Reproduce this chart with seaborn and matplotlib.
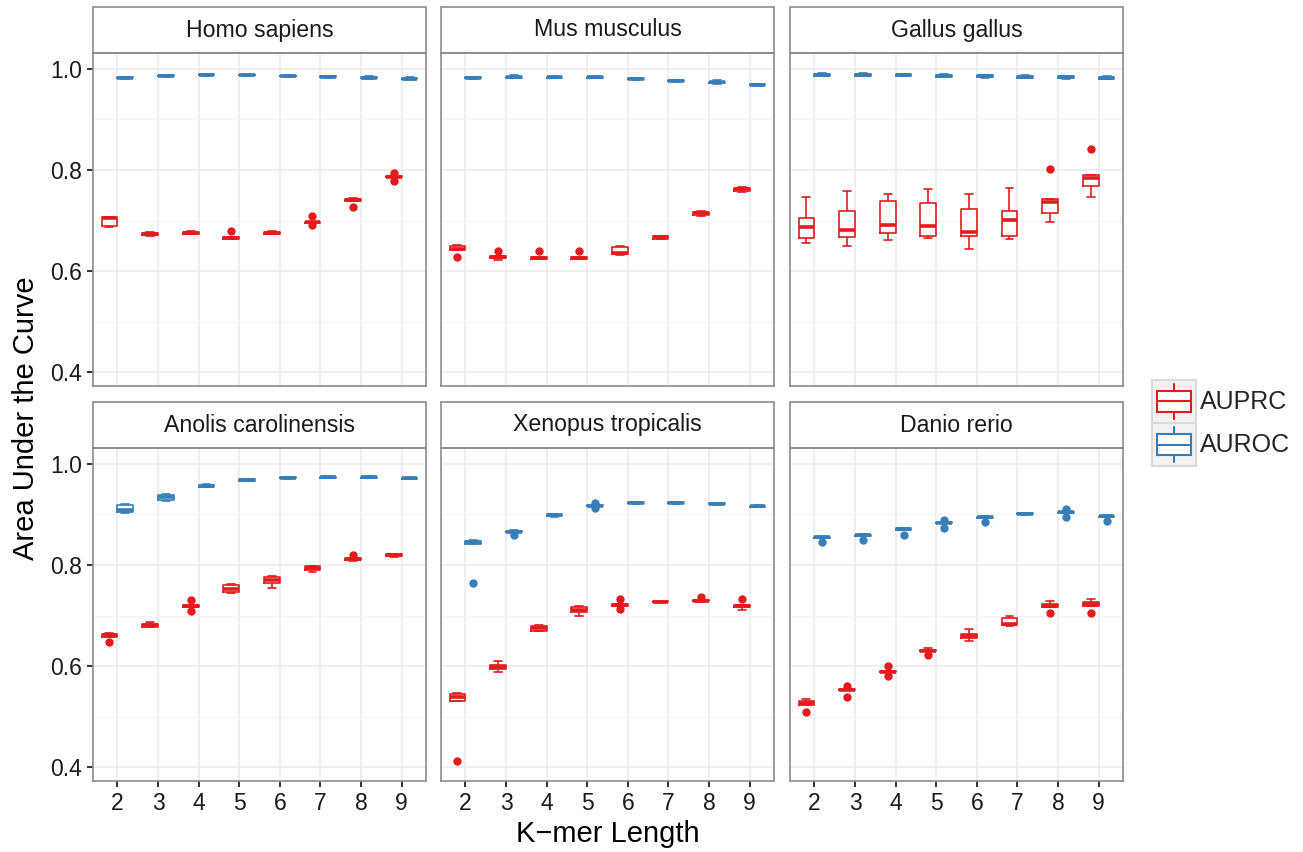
import numpy as np
import pandas as pd
import matplotlib
matplotlib.use("Agg")
import matplotlib.pyplot as plt
import seaborn as sns
from matplotlib.patches import Rectangle
from matplotlib.lines import Line2D
from matplotlib.legend_handler import HandlerBase

# values (5 folds per k-mer length)
kmers = [2, 3, 4, 5, 6, 7, 8, 9]
species = ["Homo sapiens", "Mus musculus", "Gallus gallus",
           "Anolis carolinensis", "Xenopus tropicalis", "Danio rerio"]
metrics = ["AUPRC", "AUROC"]
colors = ["#E41A1C", "#377EB8"]

homo_auprc = [[0.688, 0.689, 0.704, 0.706, 0.707], [0.669, 0.671, 0.674, 0.676, 0.678],
              [0.673, 0.674, 0.676, 0.678, 0.679], [0.663, 0.664, 0.665, 0.667, 0.679],
              [0.673, 0.674, 0.676, 0.678, 0.679], [0.691, 0.696, 0.697, 0.698, 0.709],
              [0.727, 0.739, 0.741, 0.743, 0.744], [0.779, 0.785, 0.786, 0.788, 0.793]]
homo_auroc = [[0.980, 0.981, 0.982, 0.983, 0.984], [0.984, 0.985, 0.986, 0.987, 0.988],
              [0.986, 0.987, 0.988, 0.989, 0.990], [0.986, 0.987, 0.988, 0.988, 0.989],
              [0.984, 0.985, 0.986, 0.986, 0.987], [0.982, 0.983, 0.984, 0.985, 0.986],
              [0.979, 0.981, 0.982, 0.983, 0.986], [0.978, 0.979, 0.980, 0.981, 0.983]]

mus_auprc = [[0.627, 0.641, 0.644, 0.649, 0.651], [0.622, 0.625, 0.628, 0.630, 0.639],
             [0.623, 0.624, 0.626, 0.628, 0.639], [0.623, 0.624, 0.625, 0.627, 0.639],
             [0.632, 0.633, 0.635, 0.648, 0.649], [0.663, 0.664, 0.667, 0.669, 0.670],
             [0.708, 0.710, 0.714, 0.716, 0.718], [0.756, 0.759, 0.762, 0.765, 0.767]]
mus_auroc = [[0.980, 0.981, 0.982, 0.983, 0.984], [0.981, 0.982, 0.983, 0.984, 0.987],
             [0.981, 0.982, 0.983, 0.984, 0.985], [0.981, 0.982, 0.983, 0.984, 0.985],
             [0.978, 0.979, 0.980, 0.981, 0.982], [0.974, 0.975, 0.976, 0.977, 0.978],
             [0.969, 0.972, 0.973, 0.974, 0.977], [0.966, 0.967, 0.968, 0.969, 0.970]]

gallus_auprc = [[0.656, 0.666, 0.688, 0.705, 0.747], [0.650, 0.668, 0.681, 0.718, 0.758],
                [0.661, 0.676, 0.691, 0.739, 0.752], [0.666, 0.670, 0.690, 0.734, 0.762],
                [0.643, 0.670, 0.678, 0.722, 0.752], [0.664, 0.670, 0.702, 0.718, 0.765],
                [0.697, 0.714, 0.737, 0.743, 0.801], [0.747, 0.768, 0.784, 0.790, 0.841]]
gallus_auroc = [[0.985, 0.986, 0.988, 0.990, 0.991], [0.985, 0.986, 0.988, 0.990, 0.991],
                [0.985, 0.986, 0.987, 0.989, 0.990], [0.983, 0.984, 0.986, 0.988, 0.989],
                [0.982, 0.983, 0.985, 0.987, 0.988], [0.981, 0.982, 0.984, 0.986, 0.987],
                [0.980, 0.981, 0.983, 0.985, 0.986], [0.979, 0.980, 0.982, 0.984, 0.985]]

anolis_auprc = [[0.647, 0.658, 0.661, 0.664, 0.665], [0.677, 0.678, 0.681, 0.684, 0.687],
                [0.709, 0.716, 0.718, 0.720, 0.731], [0.744, 0.746, 0.752, 0.761, 0.763],
                [0.755, 0.764, 0.771, 0.777, 0.778], [0.785, 0.790, 0.794, 0.797, 0.798],
                [0.808, 0.809, 0.811, 0.813, 0.820], [0.816, 0.817, 0.819, 0.821, 0.822]]
anolis_auroc = [[0.903, 0.904, 0.908, 0.919, 0.920], [0.927, 0.929, 0.934, 0.939, 0.940],
                [0.953, 0.954, 0.956, 0.958, 0.959], [0.965, 0.966, 0.968, 0.969, 0.970],
                [0.970, 0.971, 0.972, 0.973, 0.974], [0.971, 0.972, 0.973, 0.974, 0.975],
                [0.971, 0.972, 0.973, 0.974, 0.975], [0.969, 0.970, 0.971, 0.972, 0.973]]

xenopus_auprc = [[0.413, 0.531, 0.538, 0.545, 0.546], [0.589, 0.595, 0.599, 0.602, 0.611],
                 [0.669, 0.670, 0.675, 0.680, 0.682], [0.700, 0.706, 0.711, 0.716, 0.718],
                 [0.713, 0.719, 0.720, 0.722, 0.732], [0.725, 0.726, 0.727, 0.728, 0.729],
                 [0.727, 0.728, 0.729, 0.731, 0.737], [0.711, 0.716, 0.718, 0.720, 0.733]]
xenopus_auroc = [[0.765, 0.842, 0.845, 0.848, 0.849], [0.859, 0.865, 0.866, 0.867, 0.868],
                 [0.895, 0.896, 0.898, 0.900, 0.901], [0.912, 0.916, 0.917, 0.918, 0.922],
                 [0.921, 0.922, 0.923, 0.924, 0.925], [0.921, 0.922, 0.923, 0.924, 0.925],
                 [0.919, 0.920, 0.921, 0.922, 0.923], [0.914, 0.915, 0.916, 0.917, 0.918]]

danio_auprc = [[0.510, 0.523, 0.527, 0.531, 0.536], [0.539, 0.552, 0.553, 0.555, 0.561],
               [0.581, 0.588, 0.589, 0.591, 0.601], [0.622, 0.629, 0.630, 0.632, 0.636],
               [0.650, 0.655, 0.659, 0.663, 0.674], [0.680, 0.681, 0.683, 0.696, 0.700],
               [0.704, 0.716, 0.719, 0.723, 0.728], [0.704, 0.719, 0.723, 0.727, 0.732]]
danio_auroc = [[0.846, 0.853, 0.855, 0.856, 0.857], [0.849, 0.857, 0.859, 0.860, 0.861],
               [0.859, 0.869, 0.871, 0.872, 0.873], [0.873, 0.882, 0.883, 0.884, 0.888],
               [0.885, 0.893, 0.894, 0.895, 0.896], [0.899, 0.900, 0.901, 0.902, 0.903],
               [0.894, 0.903, 0.904, 0.905, 0.910], [0.887, 0.895, 0.896, 0.897, 0.898]]

all_data = {
    "Homo sapiens": (homo_auprc, homo_auroc),
    "Mus musculus": (mus_auprc, mus_auroc),
    "Gallus gallus": (gallus_auprc, gallus_auroc),
    "Anolis carolinensis": (anolis_auprc, anolis_auroc),
    "Xenopus tropicalis": (xenopus_auprc, xenopus_auroc),
    "Danio rerio": (danio_auprc, danio_auroc),
}

rows = []
for sp, pair in all_data.items():
    for metric, vals in zip(metrics, pair):
        for k, fold_vals in zip(kmers, vals):
            for v in fold_vals:
                rows.append({"species": sp, "kmer": k, "metric": metric, "auc": v})
df = pd.DataFrame(rows)

sns.set_style("white")
plt.rcParams["font.family"] = ["Liberation Sans", "DejaVu Sans"]

W, H = 1303, 852
fig = plt.figure(figsize=(W / 100, H / 100), dpi=100)

lefts = [93, 441, 790]
tops = [53, 448]
pw, ph = 333, 333
strip_h = 46
border = "#8C8C8C"


class BoxKeyHandler(HandlerBase):
    # draws a small boxplot glyph as the legend key, like ggplot does
    def create_artists(self, legend, orig_handle, xd, yd, width, height, fontsize, trans):
        c = orig_handle.get_color()
        x0, y0 = -xd, -yd
        arts = [Rectangle((x0, y0), width, height, facecolor="#F2F2F2",
                          edgecolor="#D9D9D9", lw=1.5, transform=trans)]
        arts.append(Rectangle((x0 + 0.12 * width, y0 + 0.25 * height), 0.76 * width,
                              0.5 * height, facecolor="white", edgecolor=c, lw=1.5,
                              transform=trans))
        arts.append(Line2D([x0 + 0.12 * width, x0 + 0.88 * width],
                           [y0 + 0.5 * height] * 2, color=c, lw=1.5, transform=trans))
        xm = x0 + 0.5 * width
        arts.append(Line2D([xm, xm], [y0 + 0.1 * height, y0 + 0.25 * height],
                           color=c, lw=1.5, transform=trans))
        arts.append(Line2D([xm, xm], [y0 + 0.75 * height, y0 + 0.9 * height],
                           color=c, lw=1.5, transform=trans))
        return arts


for i, sp in enumerate(species):
    r, c = divmod(i, 3)
    ax = fig.add_axes([lefts[c] / W, 1 - (tops[r] + ph) / H, pw / W, ph / H])
    sub = df[df["species"] == sp]
    sns.boxplot(data=sub, x="kmer", y="auc", hue="metric", hue_order=metrics,
                palette=colors, fill=False, width=0.78, gap=0, linewidth=1.2,
                fliersize=5, whis=1.5, medianprops={"linewidth": 2.6},
                flierprops={"marker": "o"}, legend=False, ax=ax)
    for ln in ax.lines:
        if ln.get_marker() == "o":
            ln.set_markerfacecolor(ln.get_markeredgecolor())

    ax.set_xlim(-0.6, 7.6)
    ax.set_ylim(0.373, 1.031)
    ax.set_yticks([0.4, 0.6, 0.8, 1.0])
    ax.set_yticks([0.5, 0.7, 0.9], minor=True)
    ax.grid(which="major", color="#EBEBEB", lw=1.1)
    ax.grid(which="minor", axis="y", color="#F4F4F4", lw=0.9)
    ax.set_axisbelow(True)
    for s in ax.spines.values():
        s.set_color(border)
        s.set_linewidth(1.2)
    ax.set_xlabel("")
    ax.set_ylabel("")
    ax.tick_params(axis="both", which="major", length=4.5, width=1.4, color="#333333",
                   labelsize=16.5, labelcolor="#1A1A1A", pad=3.5, bottom=True, left=True)
    ax.tick_params(axis="both", which="minor", length=0)
    ax.yaxis.set_major_formatter(matplotlib.ticker.FormatStrFormatter("%.1f"))
    if c != 0:
        ax.tick_params(axis="y", left=False, labelleft=False)
    if r == 0:
        ax.tick_params(axis="x", bottom=False, labelbottom=False)

    # facet strip
    ax.add_patch(Rectangle((0, 1), 1, strip_h / ph, transform=ax.transAxes,
                           facecolor="white", edgecolor=border, lw=1.2, clip_on=False))
    ax.text(0.5, 1 + strip_h / ph / 2, sp, transform=ax.transAxes, ha="center",
            va="center", fontsize=16.7, color="#1A1A1A")

handles = [Line2D([], [], color=col) for col in colors]
fig.legend(handles, metrics, loc="center left", bbox_to_anchor=(1152 / W, 1 - 423 / H),
           frameon=False, handler_map={Line2D: BoxKeyHandler()}, fontsize=18,
           handlelength=1.76, handleheight=2.27, labelspacing=0.0, handletextpad=0.15,
           borderaxespad=0, borderpad=0)

fig.text(608 / W, 1 - 834 / H, "K\u2212mer Length", ha="center", va="center",
         fontsize=21, color="black")
fig.text(26 / W, 1 - 418 / H, "Area Under the Curve", ha="center", va="center",
         rotation=90, fontsize=21, color="black")

fig.savefig("out.png", dpi=100, facecolor="white")
